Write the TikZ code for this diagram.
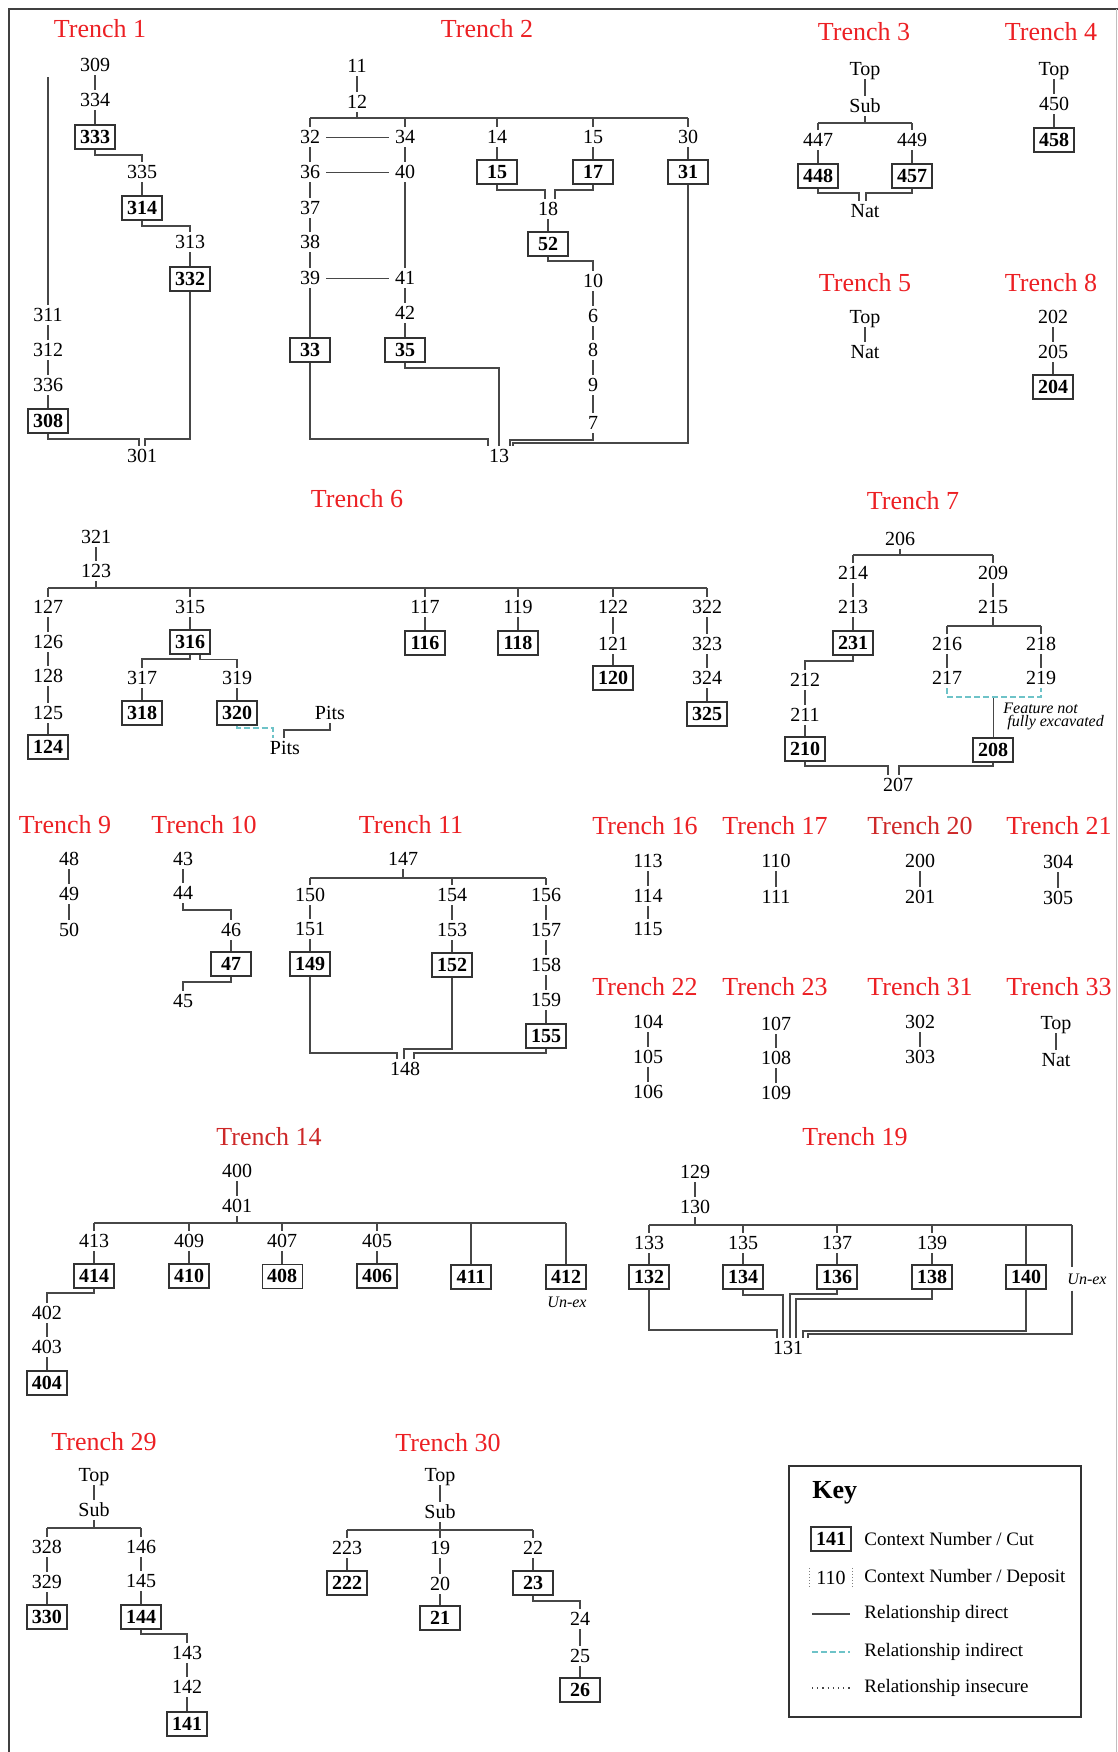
\documentclass[tikz,border=0pt]{standalone}
\usepackage{fontspec}
\setmainfont{Liberation Serif}
\usetikzlibrary{calc}
\definecolor{tred}{RGB}{236,32,36}
\definecolor{tredd}{RGB}{205,40,40}
\definecolor{tealc}{RGB}{110,195,200}
\newcommand\numf{\fontsize{10}{12}\selectfont}
\newcommand\cutf{\fontsize{10}{12}\selectfont\bfseries}
\newcommand\ttlf{\fontsize{13}{15}\selectfont}
\newcommand\notef{\fontsize{8}{6.5}\selectfont\itshape}
\newcommand\keyf{\fontsize{9.5}{11}\selectfont}
\tikzset{
 depo/.style={font=\numf, inner xsep=3pt, inner ysep=1.5pt, text height=6.8pt, text depth=0pt},
 cutbox/.style={draw=black!80, line width=0.7pt, font=\cutf, minimum width=20pt, minimum height=12pt, inner xsep=1.5pt, inner ysep=0pt, text height=6.8pt, text depth=0pt},
 ttl/.style={text=tred, font=\ttlf, inner sep=0pt},
 note/.style={font=\notef, inner sep=0pt, align=left},
 keytxt/.style={anchor=west, font=\keyf, inner sep=0pt},
 relline/.style={draw=black!72, line width=0.6pt},
 indline/.style={draw=tealc, line width=0.6pt, dash pattern=on 3pt off 1.5pt},
 insline/.style={draw=black!72, line width=0.6pt, dotted},
}
% vertical link
\newcommand\cxV[2]{\draw[relline] (#1.south) -- (#2.north);}
% elbow: down, across, down
\newcommand\cxE[3]{\draw[relline] (#1.south) -- (#1.south |- 0,#3) -| (#2.north);}
% merge leg with x offset at target
\newcommand\cxM[4]{\draw[relline] (#1.south) -- (#1.south |- 0,#3) -| ($(#2.north)+(#4,0)$);}
% drop from bar to child
\newcommand\cxD[2]{\draw[relline] (#2.north |- #1) -- (#2.north);}
% rise from parent to bar
\newcommand\cxR[2]{\draw[relline] (#1.south) -- (#1.south |- #2);}
\begin{document}
\begin{tikzpicture}[x=0.5pt,y=-0.5pt]
\useasboundingbox (0,0) rectangle (1118,1752);
\draw[black!75, line width=1pt] (9,1752) -- (9,9) -- (1118,9);
\draw[black!25, line width=0.4pt] (1116,9) -- (1116,1752);

% ---------------- Trench 1
\node[ttl] (t1) at (100,29) {Trench 1};
\node[depo] (t1n309) at (95,65) {309};
\node[depo] (t1n334) at (95,100) {334};
\node[cutbox] (t1n333) at (95,137) {333};
\node[depo] (t1n335) at (142,172) {335};
\node[cutbox] (t1n314) at (142,208) {314};
\node[depo] (t1n313) at (190,242) {313};
\node[cutbox] (t1n332) at (190,279) {332};
\node[depo] (t1n311) at (48,315) {311};
\node[depo] (t1n312) at (48,350) {312};
\node[depo] (t1n336) at (48,385) {336};
\node[cutbox] (t1n308) at (48,421) {308};
\node[depo] (t1n301) at (142,456) {301};
\coordinate (t1top) at (48,77);
\cxV{t1n309}{t1n334}
\cxV{t1n334}{t1n333}
\cxE{t1n333}{t1n335}{155}
\cxV{t1n335}{t1n314}
\cxE{t1n314}{t1n313}{226}
\cxV{t1n313}{t1n332}
\draw[relline] (t1top) -- (t1n311.north);
\cxV{t1n311}{t1n312}
\cxV{t1n312}{t1n336}
\cxV{t1n336}{t1n308}
\cxM{t1n308}{t1n301}{439}{-3}
\cxM{t1n332}{t1n301}{439}{3}

% ---------------- Trench 2
\node[ttl] (t2) at (487,29) {Trench 2};
\node[depo] (t2n11) at (357,66) {11};
\node[depo] (t2n12) at (357,102) {12};
\coordinate (t2bar) at (0,118);
\node[depo] (t2n32) at (310,137) {32};
\node[depo] (t2n34) at (405,137) {34};
\node[depo] (t2n14) at (497,137) {14};
\node[depo] (t2n15d) at (593,137) {15};
\node[depo] (t2n30) at (688,137) {30};
\node[depo] (t2n36) at (310,172) {36};
\node[depo] (t2n40) at (405,172) {40};
\node[cutbox] (t2n15c) at (497,172) {15};
\node[cutbox] (t2n17) at (593,172) {17};
\node[cutbox] (t2n31) at (688,172) {31};
\node[depo] (t2n37) at (310,208) {37};
\node[depo] (t2n38) at (310,242) {38};
\node[depo] (t2n39) at (310,278) {39};
\node[depo] (t2n18) at (548,209) {18};
\node[cutbox] (t2n52) at (548,244) {52};
\node[depo] (t2n41) at (405,278) {41};
\node[depo] (t2n10) at (593,281) {10};
\node[depo] (t2n42) at (405,313) {42};
\node[depo] (t2n6) at (593,316) {6};
\node[cutbox] (t2n33) at (310,350) {33};
\node[cutbox] (t2n35) at (405,350) {35};
\node[depo] (t2n8) at (593,350) {8};
\node[depo] (t2n9) at (593,385) {9};
\node[depo] (t2n7) at (593,423) {7};
\node[depo] (t2n13) at (499,456) {13};
\cxV{t2n11}{t2n12}
\cxR{t2n12}{t2bar}
\draw[relline] (t2n32.north |- t2bar) -- (t2n30.north |- t2bar);
\cxD{t2bar}{t2n32}
\cxD{t2bar}{t2n34}
\cxD{t2bar}{t2n14}
\cxD{t2bar}{t2n15d}
\cxD{t2bar}{t2n30}
\cxV{t2n32}{t2n36}
\cxV{t2n36}{t2n37}
\cxV{t2n37}{t2n38}
\cxV{t2n38}{t2n39}
\cxV{t2n39}{t2n33}
\cxV{t2n34}{t2n40}
\cxV{t2n40}{t2n41}
\cxV{t2n41}{t2n42}
\cxV{t2n42}{t2n35}
\cxV{t2n14}{t2n15c}
\cxV{t2n15d}{t2n17}
\cxV{t2n30}{t2n31}
\cxV{t2n18}{t2n52}
\cxV{t2n10}{t2n6}
\cxV{t2n6}{t2n8}
\cxV{t2n8}{t2n9}
\cxV{t2n9}{t2n7}
\draw[relline, line width=0.5pt] (t2n32.east) -- (t2n34.west);
\draw[relline, line width=0.5pt] (t2n36.east) -- (t2n40.west);
\draw[relline, line width=0.5pt] (t2n39.east) -- (t2n41.west);
\cxM{t2n15c}{t2n18}{190}{-3}
\cxM{t2n17}{t2n18}{190}{7}
\cxE{t2n52}{t2n10}{261}
\cxM{t2n33}{t2n13}{439}{-11}
\cxM{t2n35}{t2n13}{368}{0}
\cxM{t2n7}{t2n13}{440}{11}
\cxM{t2n31}{t2n13}{443}{14}

% ---------------- Trench 3
\node[ttl] (t3) at (864,32) {Trench 3};
\node[depo] (t3top) at (865,69) {Top};
\node[depo] (t3sub) at (865,106) {Sub};
\coordinate (t3bar) at (0,123);
\node[depo] (t3n447) at (818,140) {447};
\node[depo] (t3n449) at (912,140) {449};
\node[cutbox] (t3n448) at (818,176) {448};
\node[cutbox] (t3n457) at (912,176) {457};
\node[depo] (t3nat) at (865,211) {Nat};
\cxV{t3top}{t3sub}
\cxR{t3sub}{t3bar}
\draw[relline] (t3n447.north |- t3bar) -- (t3n449.north |- t3bar);
\cxD{t3bar}{t3n447}
\cxD{t3bar}{t3n449}
\cxV{t3n447}{t3n448}
\cxV{t3n449}{t3n457}
\cxM{t3n448}{t3nat}{193}{-6}
\cxM{t3n457}{t3nat}{193}{1}

% ---------------- Trench 4
\node[ttl] (t4) at (1051,32) {Trench 4};
\node[depo] (t4top) at (1054,69) {Top};
\node[depo] (t4n450) at (1054,104) {450};
\node[cutbox] (t4n458) at (1054,140) {458};
\cxV{t4top}{t4n450}
\cxV{t4n450}{t4n458}

% ---------------- Trench 5
\node[ttl] (t5) at (865,283) {Trench 5};
\node[depo] (t5top) at (865,317) {Top};
\node[depo] (t5nat) at (865,352) {Nat};
\cxV{t5top}{t5nat}

% ---------------- Trench 8
\node[ttl] (t8) at (1051,283) {Trench 8};
\node[depo] (t8n202) at (1053,317) {202};
\node[depo] (t8n205) at (1053,352) {205};
\node[cutbox] (t8n204) at (1053,387) {204};
\cxV{t8n202}{t8n205}
\cxV{t8n205}{t8n204}

% ---------------- Trench 6
\node[ttl] (t6) at (357,499) {Trench 6};
\node[depo] (t6n321) at (96,537) {321};
\node[depo] (t6n123) at (96,571) {123};
\coordinate (t6bar) at (0,588);
\node[depo] (t6n127) at (48,607) {127};
\node[depo] (t6n126) at (48,642) {126};
\node[depo] (t6n128) at (48,676) {128};
\node[depo] (t6n125) at (48,713) {125};
\node[cutbox] (t6n124) at (48,747) {124};
\node[depo] (t6n315) at (190,607) {315};
\node[cutbox] (t6n316) at (190,642) {316};
\node[depo] (t6n317) at (142,678) {317};
\node[depo] (t6n319) at (237,678) {319};
\node[cutbox] (t6n318) at (142,713) {318};
\node[cutbox] (t6n320) at (237,713) {320};
\node[depo] (t6pitsU) at (330,713) {Pits};
\node[depo] (t6pitsL) at (285,748) {Pits};
\node[depo] (t6n117) at (425,607) {117};
\node[cutbox] (t6n116) at (425,643) {116};
\node[depo] (t6n119) at (518,607) {119};
\node[cutbox] (t6n118) at (518,643) {118};
\node[depo] (t6n122) at (613,607) {122};
\node[depo] (t6n121) at (613,644) {121};
\node[cutbox] (t6n120) at (613,678) {120};
\node[depo] (t6n322) at (707,607) {322};
\node[depo] (t6n323) at (707,644) {323};
\node[depo] (t6n324) at (707,678) {324};
\node[cutbox] (t6n325) at (707,714) {325};
\cxV{t6n321}{t6n123}
\cxR{t6n123}{t6bar}
\draw[relline] (t6n127.north |- t6bar) -- (t6n322.north |- t6bar);
\cxD{t6bar}{t6n127}
\cxD{t6bar}{t6n315}
\cxD{t6bar}{t6n117}
\cxD{t6bar}{t6n119}
\cxD{t6bar}{t6n122}
\cxD{t6bar}{t6n322}
\cxV{t6n127}{t6n126}
\cxV{t6n126}{t6n128}
\cxV{t6n128}{t6n125}
\cxV{t6n125}{t6n124}
\cxV{t6n315}{t6n316}
\cxE{t6n316}{t6n317}{659}
\draw[relline] ($(t6n316.south)+(10,0)$) -- ($(t6n316.south)+(10,5)$) -| (t6n319.north);
\cxV{t6n317}{t6n318}
\cxV{t6n319}{t6n320}
\draw[indline] (t6n320.south) -- (t6n320.south |- 0,728) -| ($(t6pitsL.north)+(-12,0)$);
\draw[relline] (t6pitsU.south) -- (t6pitsU.south |- 0,730) -| ($(t6pitsL.north)+(-1,0)$);
\cxV{t6n117}{t6n116}
\cxV{t6n119}{t6n118}
\cxV{t6n122}{t6n121}
\cxV{t6n121}{t6n120}
\cxV{t6n322}{t6n323}
\cxV{t6n323}{t6n324}
\cxV{t6n324}{t6n325}

% ---------------- Trench 7
\node[ttl] (t7) at (913,501) {Trench 7};
\node[depo] (t7n206) at (900,539) {206};
\coordinate (t7bar) at (0,555);
\node[depo] (t7n214) at (853,573) {214};
\node[depo] (t7n209) at (993,573) {209};
\node[depo] (t7n213) at (853,607) {213};
\node[depo] (t7n215) at (993,607) {215};
\node[cutbox] (t7n231) at (853,643) {231};
\coordinate (t7bar2) at (0,626);
\node[depo] (t7n216) at (947,644) {216};
\node[depo] (t7n218) at (1041,644) {218};
\node[depo] (t7n217) at (947,678) {217};
\node[depo] (t7n219) at (1041,678) {219};
\coordinate (t7j) at (993,697);
\node[cutbox] (t7n208) at (993,750) {208};
\node[depo] (t7n212) at (805,680) {212};
\node[depo] (t7n211) at (805,715) {211};
\node[cutbox] (t7n210) at (805,749) {210};
\node[depo] (t7n207) at (898,785) {207};
\node[note, anchor=north west] (t7note) at (1003,703) {Feature not\\\hspace*{2pt}fully excavated};
\cxR{t7n206}{t7bar}
\draw[relline] (t7n214.north |- t7bar) -- (t7n209.north |- t7bar);
\cxD{t7bar}{t7n214}
\cxD{t7bar}{t7n209}
\cxV{t7n214}{t7n213}
\cxV{t7n213}{t7n231}
\cxV{t7n209}{t7n215}
\cxR{t7n215}{t7bar2}
\draw[relline] (t7n216.north |- t7bar2) -- (t7n218.north |- t7bar2);
\cxD{t7bar2}{t7n216}
\cxD{t7bar2}{t7n218}
\cxV{t7n216}{t7n217}
\cxV{t7n218}{t7n219}
\draw[relline, line width=0.5pt] (t7j) -- (t7n208.north);
\draw[indline] (t7n217.south) -- (t7n217.south |- t7j) -- (t7n219.south |- t7j) -- (t7n219.south);
\cxE{t7n231}{t7n212}{661}
\cxV{t7n212}{t7n211}
\cxV{t7n211}{t7n210}
\cxM{t7n210}{t7n207}{766}{-10}
\cxM{t7n208}{t7n207}{766}{1}

% ---------------- Trench 9
\node[ttl] (t9) at (65,825) {Trench 9};
\node[depo] (t9n48) at (69,859) {48};
\node[depo] (t9n49) at (69,894) {49};
\node[depo] (t9n50) at (69,930) {50};
\cxV{t9n48}{t9n49}
\cxV{t9n49}{t9n50}

% ---------------- Trench 10
\node[ttl] (t10) at (204,825) {Trench 10};
\node[depo] (t10n43) at (183,859) {43};
\node[depo] (t10n44) at (183,893) {44};
\node[depo] (t10n46) at (231,930) {46};
\node[cutbox] (t10n47) at (231,964) {47};
\node[depo] (t10n45) at (183,1001) {45};
\cxV{t10n43}{t10n44}
\cxE{t10n44}{t10n46}{910}
\cxV{t10n46}{t10n47}
\cxE{t10n47}{t10n45}{982}

% ---------------- Trench 11
\node[ttl] (t11) at (411,825) {Trench 11};
\node[depo] (t11n147) at (403,859) {147};
\coordinate (t11bar) at (0,878);
\node[depo] (t11n150) at (310,895) {150};
\node[depo] (t11n154) at (452,895) {154};
\node[depo] (t11n156) at (546,895) {156};
\node[depo] (t11n151) at (310,929) {151};
\node[depo] (t11n153) at (452,930) {153};
\node[depo] (t11n157) at (546,930) {157};
\node[cutbox] (t11n149) at (310,964) {149};
\node[cutbox] (t11n152) at (452,965) {152};
\node[depo] (t11n158) at (546,965) {158};
\node[depo] (t11n159) at (546,1000) {159};
\node[cutbox] (t11n155) at (546,1036) {155};
\node[depo] (t11n148) at (405,1069) {148};
\cxR{t11n147}{t11bar}
\draw[relline] (t11n150.north |- t11bar) -- (t11n156.north |- t11bar);
\cxD{t11bar}{t11n150}
\cxD{t11bar}{t11n154}
\cxD{t11bar}{t11n156}
\cxV{t11n150}{t11n151}
\cxV{t11n151}{t11n149}
\cxV{t11n154}{t11n153}
\cxV{t11n153}{t11n152}
\cxV{t11n156}{t11n157}
\cxV{t11n157}{t11n158}
\cxV{t11n158}{t11n159}
\cxV{t11n159}{t11n155}
\cxM{t11n149}{t11n148}{1053}{-8}
\cxM{t11n152}{t11n148}{1049}{-1}
\cxM{t11n155}{t11n148}{1053}{9}

% ---------------- Trenches 16, 17, 20, 21
\node[ttl] (t16) at (645,826) {Trench 16};
\node[depo] (t16n113) at (648,861) {113};
\node[depo] (t16n114) at (648,896) {114};
\node[depo] (t16n115) at (648,929) {115};
\cxV{t16n113}{t16n114}
\cxV{t16n114}{t16n115}
\node[ttl] (t17) at (775,826) {Trench 17};
\node[depo] (t17n110) at (776,861) {110};
\node[depo] (t17n111) at (776,897) {111};
\cxV{t17n110}{t17n111}
\node[ttl, text=tredd] (t20) at (920,826) {Trench 20};
\node[depo] (t20n200) at (920,861) {200};
\node[depo] (t20n201) at (920,897) {201};
\cxV{t20n200}{t20n201}
\node[ttl] (t21) at (1059,826) {Trench 21};
\node[depo] (t21n304) at (1058,862) {304};
\node[depo] (t21n305) at (1058,898) {305};
\cxV{t21n304}{t21n305}

% ---------------- Trenches 22, 23, 31, 33
\node[ttl] (t22) at (645,987) {Trench 22};
\node[depo] (t22n104) at (648,1022) {104};
\node[depo] (t22n105) at (648,1057) {105};
\node[depo] (t22n106) at (648,1092) {106};
\cxV{t22n104}{t22n105}
\cxV{t22n105}{t22n106}
\node[ttl] (t23) at (775,987) {Trench 23};
\node[depo] (t23n107) at (776,1024) {107};
\node[depo] (t23n108) at (776,1058) {108};
\node[depo] (t23n109) at (776,1093) {109};
\cxV{t23n107}{t23n108}
\cxV{t23n108}{t23n109}
\node[ttl] (t31) at (920,987) {Trench 31};
\node[depo] (t31n302) at (920,1022) {302};
\node[depo] (t31n303) at (920,1057) {303};
\cxV{t31n302}{t31n303}
\node[ttl] (t33) at (1059,987) {Trench 33};
\node[depo] (t33top) at (1056,1023) {Top};
\node[depo] (t33nat) at (1056,1060) {Nat};
\cxV{t33top}{t33nat}

% ---------------- Trench 14
\node[ttl, text=tredd] (t14) at (269,1137) {Trench 14};
\node[depo] (t14n400) at (237,1171) {400};
\node[depo] (t14n401) at (237,1206) {401};
\coordinate (t14bar) at (0,1223);
\node[depo] (t14n413) at (94,1241) {413};
\node[depo] (t14n409) at (189,1241) {409};
\node[depo] (t14n407) at (282,1241) {407};
\node[depo] (t14n405) at (377,1241) {405};
\node[cutbox] (t14n414) at (94,1276) {414};
\node[cutbox] (t14n410) at (189,1276) {410};
\node[cutbox, line width=0.5pt] (t14n408) at (282,1276) {408};
\node[cutbox] (t14n406) at (377,1276) {406};
\node[cutbox] (t14n411) at (471,1277) {411};
\node[cutbox] (t14n412) at (566,1277) {412};
\node[note] (t14unex) at (567,1302) {Un-ex};
\node[depo] (t14n402) at (47,1313) {402};
\node[depo] (t14n403) at (47,1347) {403};
\node[cutbox] (t14n404) at (47,1383) {404};
\cxV{t14n400}{t14n401}
\cxR{t14n401}{t14bar}
\draw[relline] (t14n413.north |- t14bar) -- (t14n412.north |- t14bar);
\cxD{t14bar}{t14n413}
\cxD{t14bar}{t14n409}
\cxD{t14bar}{t14n407}
\cxD{t14bar}{t14n405}
\cxD{t14bar}{t14n411}
\cxD{t14bar}{t14n412}
\cxV{t14n413}{t14n414}
\cxV{t14n409}{t14n410}
\cxV{t14n407}{t14n408}
\cxV{t14n405}{t14n406}
\cxE{t14n414}{t14n402}{1293}
\cxV{t14n402}{t14n403}
\cxV{t14n403}{t14n404}

% ---------------- Trench 19
\node[ttl] (t19) at (855,1137) {Trench 19};
\node[depo] (t19n129) at (695,1172) {129};
\node[depo] (t19n130) at (695,1207) {130};
\coordinate (t19bar) at (0,1225);
\coordinate (t19r) at (1072,1225);
\node[depo] (t19n133) at (649,1243) {133};
\node[depo] (t19n135) at (743,1243) {135};
\node[depo] (t19n137) at (837,1243) {137};
\node[depo] (t19n139) at (932,1243) {139};
\node[cutbox] (t19n132) at (649,1277) {132};
\node[cutbox] (t19n134) at (743,1277) {134};
\node[cutbox] (t19n136) at (837,1277) {136};
\node[cutbox] (t19n138) at (932,1277) {138};
\node[cutbox] (t19n140) at (1026,1277) {140};
\node[note, inner ysep=3pt] (t19unex) at (1087,1279) {Un-ex};
\node[depo] (t19n131) at (788,1348) {131};
\cxV{t19n129}{t19n130}
\cxR{t19n130}{t19bar}
\draw[relline] (t19n133.north |- t19bar) -- (t19r);
\cxD{t19bar}{t19n133}
\cxD{t19bar}{t19n135}
\cxD{t19bar}{t19n137}
\cxD{t19bar}{t19n139}
\cxD{t19bar}{t19n140}
\draw[relline] (t19r) -- (t19r |- t19unex.north);
\cxV{t19n133}{t19n132}
\cxV{t19n135}{t19n134}
\cxV{t19n137}{t19n136}
\cxV{t19n139}{t19n138}
\cxM{t19n132}{t19n131}{1330}{-11}
\cxM{t19n134}{t19n131}{1295}{-5}
\cxM{t19n136}{t19n131}{1294}{2}
\cxM{t19n138}{t19n131}{1299}{8}
\cxM{t19n140}{t19n131}{1331}{15}
\draw[relline] (t19r |- t19unex.south) -- (t19r |- 0,1334) -| ($(t19n131.north)+(20,0)$);

% ---------------- Trench 29
\node[ttl] (t29) at (104,1442) {Trench 29};
\node[depo] (t29top) at (94,1475) {Top};
\node[depo] (t29sub) at (94,1510) {Sub};
\coordinate (t29bar) at (0,1528);
\node[depo] (t29n328) at (47,1547) {328};
\node[depo] (t29n146) at (141,1547) {146};
\node[depo] (t29n329) at (47,1582) {329};
\node[depo] (t29n145) at (141,1581) {145};
\node[cutbox] (t29n330) at (47,1617) {330};
\node[cutbox] (t29n144) at (141,1617) {144};
\node[depo] (t29n143) at (187,1653) {143};
\node[depo] (t29n142) at (187,1687) {142};
\node[cutbox] (t29n141) at (187,1724) {141};
\cxV{t29top}{t29sub}
\cxR{t29sub}{t29bar}
\draw[relline] (t29n328.north |- t29bar) -- (t29n146.north |- t29bar);
\cxD{t29bar}{t29n328}
\cxD{t29bar}{t29n146}
\cxV{t29n328}{t29n329}
\cxV{t29n329}{t29n330}
\cxV{t29n146}{t29n145}
\cxV{t29n145}{t29n144}
\cxE{t29n144}{t29n143}{1634}
\cxV{t29n143}{t29n142}
\cxV{t29n142}{t29n141}

% ---------------- Trench 30
\node[ttl] (t30) at (448,1443) {Trench 30};
\node[depo] (t30top) at (440,1475) {Top};
\node[depo] (t30sub) at (440,1512) {Sub};
\coordinate (t30bar) at (0,1530);
\node[depo] (t30n223) at (347,1548) {223};
\node[depo] (t30n19) at (440,1548) {19};
\node[depo] (t30n22) at (533,1548) {22};
\node[cutbox] (t30n222) at (347,1583) {222};
\node[depo] (t30n20) at (440,1584) {20};
\node[cutbox] (t30n23) at (533,1583) {23};
\node[cutbox] (t30n21) at (440,1618) {21};
\node[depo] (t30n24) at (580,1619) {24};
\node[depo] (t30n25) at (580,1656) {25};
\node[cutbox] (t30n26) at (580,1690) {26};
\cxV{t30top}{t30sub}
\cxR{t30sub}{t30bar}
\draw[relline] (t30n223.north |- t30bar) -- (t30n22.north |- t30bar);
\cxD{t30bar}{t30n223}
\cxD{t30bar}{t30n19}
\cxD{t30bar}{t30n22}
\cxV{t30n223}{t30n222}
\cxV{t30n19}{t30n20}
\cxV{t30n20}{t30n21}
\cxV{t30n22}{t30n23}
\cxE{t30n23}{t30n24}{1601}
\cxV{t30n24}{t30n25}
\cxV{t30n25}{t30n26}

% ---------------- Key
\draw[black!80, line width=0.9pt] (789,1466) rectangle (1081,1717);
\node[anchor=west, font=\fontsize{13}{15}\selectfont\bfseries, inner sep=0pt] (keyttl) at (812,1493) {Key};
\node[cutbox] (k141) at (831,1539) {141};
\node[keytxt] (kt1) at (864,1539) {Context Number / Cut};
\node[depo, minimum width=20pt] (k110) at (831,1578) {110};
\draw[black!50, densely dotted, line width=0.5pt] (k110.north west) -- (k110.south west);
\draw[black!50, densely dotted, line width=0.5pt] (k110.north east) -- (k110.south east);
\node[keytxt] (kt2) at (864,1578) {Context Number / Deposit};
\coordinate (kd1) at (812,1614);
\coordinate (kd2) at (850,1614);
\draw[relline] (kd1) -- (kd2);
\node[keytxt] (kt3) at (864,1614) {Relationship direct};
\coordinate (ki1) at (812,1652);
\coordinate (ki2) at (850,1652);
\draw[indline] (ki1) -- (ki2);
\node[keytxt] (kt4) at (864,1652) {Relationship indirect};
\coordinate (ks1) at (812,1688);
\coordinate (ks2) at (850,1688);
\draw[insline] (ks1) -- (ks2);
\node[keytxt] (kt5) at (864,1688) {Relationship insecure};
\end{tikzpicture}
\end{document}
